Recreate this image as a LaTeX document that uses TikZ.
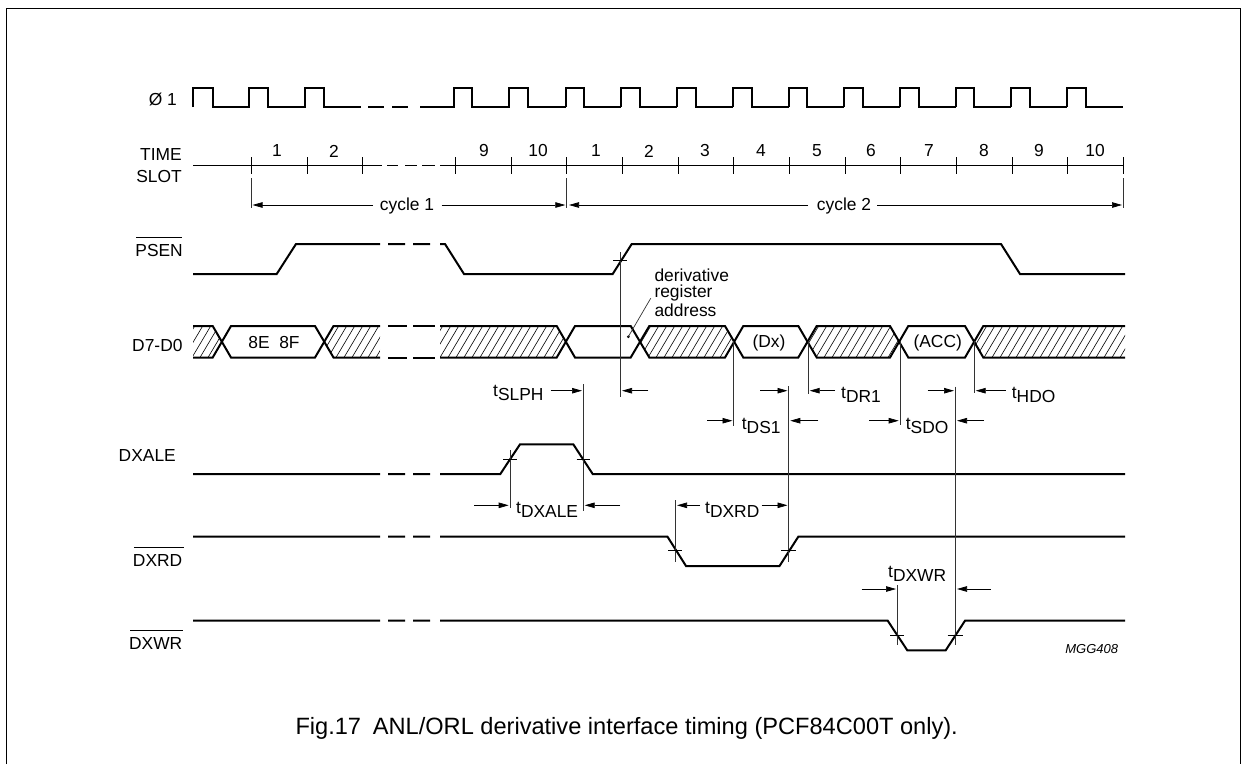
\documentclass[tikz,border=0pt]{standalone}
\usepackage{fontspec}
\setmainfont{Liberation Sans}
\usetikzlibrary{patterns,arrows.meta}
\tikzset{
  wave/.style={line width=2pt,line join=miter,line cap=butt},
  axisline/.style={line width=1pt},
  guide/.style={line width=0.7pt,black!80},
  tick/.style={line width=0.8pt},
  dimarrow/.style={line width=0.7pt,-{Triangle[length=10pt,width=5.5pt]}},
  lab/.style={font=\fontsize{17.4}{19}\selectfont,inner sep=0pt},
  rl/.style={lab,anchor=east},
  tm/.style={lab,anchor=west},
  hatchline/.style={line width=0.6pt},
}
\newcommand{\tsub}[1]{t\raisebox{-4.5pt}{#1}}
\newcommand{\hatchfill}[2]{%
  \begin{scope}
    \clip #1;
    \foreach \k in {-400,-392,...,1200} { \draw[hatchline] (\k,357.5) -- ++(19,-32); }
  \end{scope}
  \draw[wave] #2;
}
\newcommand{\barred}[2]{\rlap{\hspace{1pt}\raisebox{18.5pt}{\rule{#1}{0.7pt}}}#2}
\begin{document}
\begin{tikzpicture}[x=1pt,y=-1pt]
\useasboundingbox (0,0) rectangle (1247,764);
% frame
\draw[line width=1.2pt] (6.5,764) -- (6.5,8.5) -- (1240.5,8.5) -- (1240.5,764);

% clock
\node[rl] (phi) at (177,99) {Ø 1};
\draw[wave] (192.7,107) -- (192.7,88) -- (212.7,88) -- (212.7,107) -- (249.3,107) -- (249.3,88) -- (268,88) -- (268,107) -- (305,107) -- (305,88) -- (324,88) -- (324,107) -- (361,107);
\draw[wave] (368,107) -- (384,107) (392,107) -- (408,107) (420,107) -- (454,107) -- (454,88) -- (472,88) -- (472,107) -- (509,107) -- (509,88) -- (528,88) -- (528,107) -- (565.7,107);
\foreach \r in {0,...,9} {
  \pgfmathsetmacro{\ra}{565.7+55.7*\r}
  \pgfmathsetmacro{\fa}{\ra+18.7}
  \pgfmathsetmacro{\nx}{\ra+55.7}
  \pgfmathparse{\r<9 ? \nx : 1123.3}\let\nxx\pgfmathresult
  \draw[wave] (\ra,107) -- (\ra,88) -- (\fa,88) -- (\fa,107) -- (\nxx,107);
}

% time slot
\node[rl] (time) at (182,155) {TIME};
\node[rl] (slot) at (182,177) {SLOT};
\draw[axisline] (193,165) -- (381.7,165) (387,165) -- (398,165) (405,165) -- (417,165) (422,165) -- (435,165) (440,165) -- (1123.3,165);
\foreach \x in {251,307,362.7,455.7,511,566.7,622.3,678,733.7,789.3,845,900.7,956.3,1012,1067.7,1123.3}
  \draw[tick] (\x,157) -- (\x,174);
\foreach \x/\t in {277/1,334/2,484/9,538/10,596/1,649/2,705/3,761/4,817/5,871/6,929/7,984/8,1039/9,1095/10}
  \node[lab] at (\x,151) {\t};

% cycle brackets
\draw[guide] (251,178) -- (251,208) (566.7,178) -- (566.7,208) (1123.3,178) -- (1123.3,208);
\node[lab] (cyc1) at (407,205.5) {cycle 1};
\node[lab] (cyc2) at (844,205.5) {cycle 2};
\draw[dimarrow] (373,205) -- (252.5,205);
\draw[dimarrow] (441.7,205) -- (565.3,205);
\draw[dimarrow] (808,205) -- (569,205);
\draw[dimarrow] (877,205) -- (1122,205);

% PSEN
\node[rl] (psen) at (183,247) {\barred{45.6pt}{PSEN}};
\draw[wave] (193,274) -- (276.7,274) -- (296,244) -- (380,244) (388,244) -- (405,244) (413,244) -- (430,244) (440,244) -- (445,244) -- (464,274) -- (612.7,274) -- (631.7,244) -- (1001,244) -- (1020,274) -- (1125,274);

% bus hatch
\def\yh{326} \def\yl{357.5} \def\ym{341.7}
\hatchfill{(193,\yh) -- (212.7,\yh) -- (221.8,\ym) -- (212.7,\yl) -- (193,\yl) -- cycle}{(193,\yh) -- (212.7,\yh) -- (231,\yl) -- (315,\yl) -- (333.5,\yh) -- (380,\yh)}
\draw[wave] (193,\yl) -- (212.7,\yl) -- (231,\yh) -- (315,\yh) -- (333.5,\yl) -- (380,\yl);
\hatchfill{(333.5,\yh) -- (380,\yh) -- (380,\yl) -- (333.5,\yl) -- (324.2,\ym) -- cycle}{(388,\yh) -- (407,\yh) (413,\yh) -- (435,\yh) (388,\yl) -- (407,\yl) (413,\yl) -- (435,\yl)}
\hatchfill{(440,\yh) -- (556.7,\yh) -- (565.9,\ym) -- (556.7,\yl) -- (440,\yl) -- cycle}{(440,\yh) -- (556.7,\yh) -- (575,\yl) -- (630.7,\yl) -- (649.3,\yh) -- (725,\yh) -- (743.3,\yl) -- (798.3,\yl) -- (816.7,\yh) -- (890,\yh) -- (908.3,\yl) -- (965,\yl) -- (983.3,\yh) -- (1125,\yh)}
\draw[wave] (440,\yl) -- (556.7,\yl) -- (575,\yh) -- (630.7,\yh) -- (649.3,\yl) -- (725,\yl) -- (743.3,\yh) -- (798.3,\yh) -- (816.7,\yl) -- (890,\yl) -- (908.3,\yh) -- (965,\yh) -- (983.3,\yl) -- (1125,\yl);
\hatchfill{(649.3,\yh) -- (725,\yh) -- (734.2,\ym) -- (725,\yl) -- (649.3,\yl) -- (640,\ym) -- cycle}{}
\hatchfill{(816.7,\yh) -- (890,\yh) -- (899.2,\ym) -- (890,\yl) -- (816.7,\yl) -- (807.5,\ym) -- cycle}{}
\hatchfill{(983.3,\yh) -- (1125,\yh) -- (1125,\yl) -- (983.3,\yl) -- (974.1,\ym) -- cycle}{}
\node[rl] (d70) at (182.7,346) {D7-D0};
\node[lab] (v8e) at (274,343) {8E\hspace{0.55em}8F};
\node[lab] (vdx) at (769,343) {(Dx)};
\node[lab] (vacc) at (937.7,343) {(ACC)};

% derivative label
\node[lab,anchor=west] (dr1) at (654.3,275) {derivative};
\node[lab,anchor=west] (dr2) at (654.3,293) {register};
\node[lab,anchor=west] (dr3) at (654.3,310) {address};
\coordinate (lead) at (650.7,298.3);
\coordinate (dot) at (628.3,336.7);
\fill (dot) circle (1.5pt);
\draw[guide] (lead) -- (dot);

% DXALE
\node[rl] (dxale) at (176,456) {DXALE};
\draw[wave] (193,474) -- (380,474) (388,474) -- (405,474) (413,474) -- (430,474) (440,474) -- (500.3,474) -- (520,444.3) -- (573.3,444.3) -- (592.7,474) -- (1125,474);

% DXRD
\node[rl] (dxrd) at (182.5,557) {\barred{49.7pt}{DXRD}};
\draw[wave] (193,536.7) -- (380,536.7) (388,536.7) -- (405,536.7) (413,536.7) -- (430,536.7) (440,536.7) -- (667.5,536.7) -- (686,566) -- (779.5,566) -- (798.3,536.7) -- (1125,536.7);

% DXWR
\node[rl] (dxwr) at (182.5,640) {\barred{52.5pt}{DXWR}};
\draw[wave] (193,620.7) -- (380,620.7) (388,620.7) -- (405,620.7) (413,620.7) -- (430,620.7) (440,620.7) -- (887.7,620.7) -- (907.3,650.3) -- (945.7,650.3) -- (965,620.7) -- (1125,620.7);

% guide lines with ticks
\draw[guide] (620.3,252) -- (620.3,396.7);
\draw[tick] (613,260.7) -- (627,260.7);
\draw[guide] (583,384) -- (583,510.7);
\draw[guide] (510,450) -- (510,508.3);
\draw[tick] (503,459) -- (517,459) (576.7,459) -- (590,459);
\draw[guide] (675.3,500) -- (675.3,561.7);
\draw[guide] (788.7,386) -- (788.7,561.7);
\draw[tick] (668,550.7) -- (682,550.7) (781,550.7) -- (795.7,550.7);
\draw[guide] (733.7,341) -- (733.7,426);
\draw[guide] (808,341) -- (808,394.3);
\draw[guide] (900,341) -- (900,425);
\draw[guide] (974,341) -- (974,393.3);
\draw[guide] (955.3,386.7) -- (955.3,645);
\draw[guide] (897.3,585) -- (897.3,645);
\draw[tick] (890,635) -- (904.3,635) (947.7,635) -- (962.7,635);

% timing labels
\node[tm] (tslph) at (493,393) {\tsub{SLPH}};
\draw[dimarrow] (550.7,390.7) -- (582,390.7);
\draw[dimarrow] (648.3,390.7) -- (622,390.7);
\draw[dimarrow] (760,390.7) -- (787.5,390.7);
\draw[dimarrow] (835,390.7) -- (809.7,390.7);
\node[tm] (tdr1) at (841,395) {\tsub{DR1}};
\draw[dimarrow] (927.7,390.7) -- (954,390.7);
\draw[dimarrow] (1005.7,390.7) -- (975.7,390.7);
\node[tm] (thdo) at (1011.7,395) {\tsub{HDO}};

\draw[dimarrow] (707.3,420.7) -- (732.5,420.7);
\node[tm] (tds1) at (741.7,426) {\tsub{DS1}};
\draw[dimarrow] (818.3,420.7) -- (790.3,420.7);
\draw[dimarrow] (869.3,420.7) -- (898.7,420.7);
\node[tm] (tsdo) at (905.7,426) {\tsub{SDO}};
\draw[dimarrow] (984,420.7) -- (957,420.7);

\draw[dimarrow] (474.3,505.3) -- (508.7,505.3);
\node[tm] (tdxale) at (516,510) {\tsub{DXALE}};
\draw[dimarrow] (620,505.3) -- (584.7,505.3);
\draw[dimarrow] (700,505.3) -- (677,505.3);
\node[tm] (tdxrd) at (705,510) {\tsub{DXRD}};
\draw[dimarrow] (761.7,505.3) -- (787.5,505.3);

\node[tm] (tdxwr) at (888,574) {\tsub{DXWR}};
\draw[dimarrow] (861.7,589) -- (896,589);
\draw[dimarrow] (990.7,589) -- (957,589);

\node[lab,anchor=east,font=\fontsize{13}{14}\selectfont\itshape] (mgg) at (1118.3,649.3) {MGG408};
\node[lab,anchor=base,font=\fontsize{23.6}{26}\selectfont] (cap) at (626.7,734) {Fig.17\hspace{0.5em}ANL/ORL derivative interface timing (PCF84C00T only).};
\end{tikzpicture}
\end{document}
